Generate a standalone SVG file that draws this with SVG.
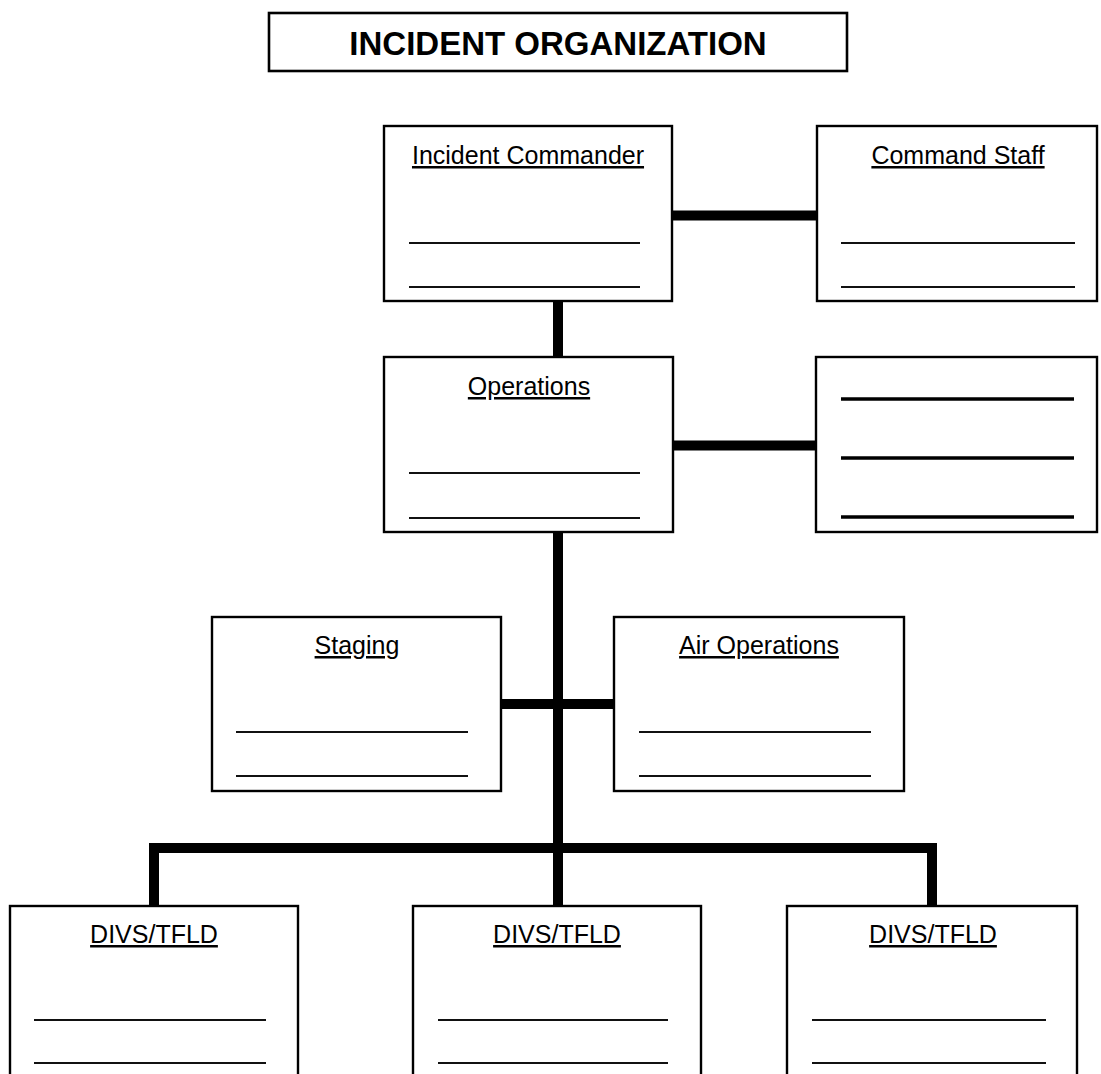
<svg xmlns="http://www.w3.org/2000/svg" width="1101" height="1074" viewBox="0 0 1101 1074">
<style>
.box{fill:#fff;stroke:#000;stroke-width:2.4}
.ln{stroke:#111;stroke-width:2.2}
.ln3{stroke:#000;stroke-width:3.4}
.lbl{font-family:"Liberation Sans",Arial,sans-serif;font-size:25px;text-anchor:middle;text-decoration:underline;fill:#000}
.title{font-family:"Liberation Sans",Arial,sans-serif;font-size:33px;font-weight:bold;text-anchor:middle;fill:#000}
.con{stroke:#000;stroke-width:10;fill:none;stroke-linejoin:miter}
</style>
<rect width="1101" height="1074" fill="#fff"/>
<g id="title">
<rect x="269" y="13" width="578" height="58" fill="#fff" stroke="#000" stroke-width="2.6"/>
<text class="title" x="558" y="55">INCIDENT ORGANIZATION</text>
</g>
<g id="connectors">
<line class="con" x1="672" y1="215.5" x2="817" y2="215.5"/>
<line class="con" x1="558" y1="301" x2="558" y2="357"/>
<line class="con" x1="673" y1="445.5" x2="816" y2="445.5"/>
<line class="con" x1="558" y1="532" x2="558" y2="906"/>
<line class="con" x1="501" y1="704" x2="614" y2="704"/>
<path class="con" d="M154 906 V848 H932 V906"/>
</g>
<g id="incident-commander">
<rect class="box" x="384" y="126" width="288" height="175"/>
<text class="lbl" x="528" y="164">Incident Commander</text>
<line class="ln" x1="409" y1="243" x2="640" y2="243"/>
<line class="ln" x1="409" y1="287" x2="640" y2="287"/>
</g>
<g id="command-staff">
<rect class="box" x="817" y="126" width="280" height="175"/>
<text class="lbl" x="958" y="164">Command Staff</text>
<line class="ln" x1="841" y1="243" x2="1075" y2="243"/>
<line class="ln" x1="841" y1="287" x2="1075" y2="287"/>
</g>
<g id="operations">
<rect class="box" x="384" y="357" width="289" height="175"/>
<text class="lbl" x="529" y="395">Operations</text>
<line class="ln" x1="409" y1="473" x2="640" y2="473"/>
<line class="ln" x1="409" y1="518" x2="640" y2="518"/>
</g>
<g id="blank-box">
<rect class="box" x="816" y="357" width="281" height="175"/>
<line class="ln3" x1="841" y1="399" x2="1074" y2="399"/>
<line class="ln3" x1="841" y1="458" x2="1074" y2="458"/>
<line class="ln3" x1="841" y1="517" x2="1074" y2="517"/>
</g>
<g id="staging">
<rect class="box" x="212" y="617" width="289" height="174"/>
<text class="lbl" x="357" y="654">Staging</text>
<line class="ln" x1="236" y1="732" x2="468" y2="732"/>
<line class="ln" x1="236" y1="776" x2="468" y2="776"/>
</g>
<g id="air-operations">
<rect class="box" x="614" y="617" width="290" height="174"/>
<text class="lbl" x="759" y="654">Air Operations</text>
<line class="ln" x1="639" y1="732" x2="871" y2="732"/>
<line class="ln" x1="639" y1="776" x2="871" y2="776"/>
</g>
<g id="divs-left">
<rect class="box" x="10" y="906" width="288" height="180"/>
<text class="lbl" x="154" y="943">DIVS/TFLD</text>
<line class="ln" x1="34" y1="1020" x2="266" y2="1020"/>
<line class="ln" x1="34" y1="1063" x2="266" y2="1063"/>
</g>
<g id="divs-middle">
<rect class="box" x="413" y="906" width="288" height="180"/>
<text class="lbl" x="557" y="943">DIVS/TFLD</text>
<line class="ln" x1="438" y1="1020" x2="668" y2="1020"/>
<line class="ln" x1="438" y1="1063" x2="668" y2="1063"/>
</g>
<g id="divs-right">
<rect class="box" x="787" y="906" width="290" height="180"/>
<text class="lbl" x="933" y="943">DIVS/TFLD</text>
<line class="ln" x1="812" y1="1020" x2="1046" y2="1020"/>
<line class="ln" x1="812" y1="1063" x2="1046" y2="1063"/>
</g>
</svg>
